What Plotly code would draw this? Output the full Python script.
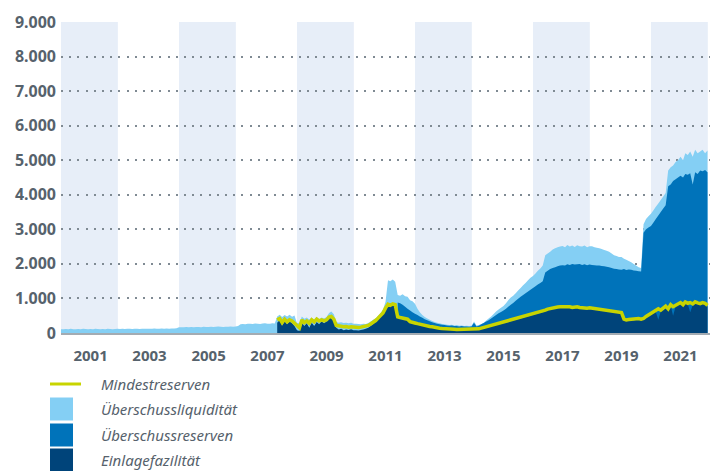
import pandas as pd
import plotly.graph_objects as go

months = pd.date_range("2000-01-01", periods=264, freq="MS")

ueberschussliquiditaet = [
    110, 105, 115, 110, 120, 105, 110, 115, 110, 120, 115, 110,  # 2000
    115, 110, 120, 115, 110, 118, 112, 120, 115, 110, 118, 120,  # 2001
    118, 122, 115, 120, 125, 118, 120, 122, 118, 125, 120, 122,  # 2002
    120, 125, 128, 122, 125, 130, 125, 128, 125, 130, 128, 135,  # 2003
    165, 170, 168, 172, 170, 175, 168, 172, 175, 170, 178, 172,  # 2004
    175, 180, 172, 178, 185, 180, 176, 182, 178, 185, 180, 188,  # 2005
    200, 250, 260, 255, 265, 270, 260, 275, 268, 262, 275, 280,  # 2006
    270, 265, 280, 275, 480, 530, 460, 520, 480, 530, 470, 510,  # 2007
    280, 300, 480, 410, 450, 390, 440, 370, 460, 400, 450, 420,  # 2008
    460, 580, 620, 540, 320, 300, 310, 290, 300, 280, 300, 270,  # 2009
    270, 260, 250, 270, 260, 290, 330, 380, 430, 500, 580, 680,  # 2010
    900, 1530, 1500, 1550, 1480, 1100, 1080, 1120, 1060, 1050, 950, 920,  # 2011
    850, 700, 600, 520, 460, 420, 380, 350, 320, 300, 280, 260,  # 2012
    250, 240, 230, 240, 220, 230, 210, 220, 200, 210, 200, 210,  # 2013
    330, 220, 230, 260, 300, 360, 420, 480, 550, 620, 680, 730,  # 2014
    780, 860, 950, 1030, 1080, 1150, 1230, 1300, 1380, 1450, 1530, 1600,  # 2015
    1650, 1720, 1800, 1870, 1950, 2250, 2300, 2350, 2420, 2450, 2480, 2500,  # 2016
    2520, 2480, 2550, 2500, 2530, 2490, 2540, 2510, 2500, 2530, 2480, 2510,  # 2017
    2510, 2480, 2470, 2450, 2430, 2400, 2380, 2350, 2300, 2250, 2230, 2200,  # 2018
    2200, 2150, 2120, 2080, 2050, 2000, 1950, 1900, 1880, 3150, 3300, 3380,  # 2019
    3450, 3550, 3650, 3750, 3850, 3950, 4050, 4700, 4800, 4850, 4950, 5000,  # 2020
    5100, 5000, 5200, 5150, 5250, 5100, 5300, 5200, 5250, 5300, 5200, 5280,  # 2021
]

ueberschussreserven = [None] * 137 + [
    880, 860, 820, 760, 700, 650, 600,  # 2011 (ab Juni)
    560, 520, 480, 440, 400, 370, 340, 310, 290, 270, 250, 240,  # 2012
    230, 220, 210, 215, 200, 205, 190, 200, 185, 190, 180, 190,  # 2013
    300, 190, 210, 250, 290, 330, 370, 420, 470, 520, 570, 610,  # 2014
    650, 700, 760, 820, 870, 930, 990, 1050, 1100, 1150, 1200, 1250,  # 2015
    1300, 1350, 1400, 1450, 1500, 1750, 1800, 1850, 1880, 1900, 1930, 1950,  # 2016
    1960, 1950, 1990, 1970, 2000, 1980, 1990, 2000, 1970, 1990, 1960, 1980,  # 2017
    1970, 1960, 1950, 1950, 1940, 1930, 1920, 1900, 1880, 1860, 1850, 1840,  # 2018
    1830, 1850, 1820, 1840, 1830, 1810, 1800, 1790, 1780, 2900, 3000, 3050,  # 2019
    3100, 3200, 3300, 3400, 3500, 3600, 3700, 4250, 4300, 4400, 4450, 4500,  # 2020
    4550, 4500, 4600, 4580, 4620, 4300, 4650, 4600, 4700, 4680, 4720, 4650,  # 2021
]

einlagefazilitaet = [None] * 88 + [
    300, 380, 220, 350, 250, 330, 280, 200,  # 2007 (ab Mai)
    80, 60, 300, 200, 280, 150, 300, 200, 320, 250, 340, 280,  # 2008
    330, 450, 420, 350, 150, 100, 120, 80, 100, 90, 110, 80,  # 2009
    80, 70, 90, 100, 120, 150, 200, 260, 330, 400, 480, 560,  # 2010
    700, 850, 820, 860, 830, 450, 430, 420, 400, 380, 300, 270,  # 2011
    250, 240, 230, 220, 200, 190, 180, 170, 160, 150, 140, 140,  # 2012
    130, 130, 120, 125, 120, 115, 110, 115, 110, 105, 110, 100,  # 2013
    90, 80, 100, 120, 140, 160, 180, 200, 220, 230, 240, 260,  # 2014
    280, 300, 320, 340, 360, 380, 400, 420, 440, 460, 480, 500,  # 2015
    520, 540, 560, 580, 600, 630, 660, 680, 700, 710, 720, 730,  # 2016
    730, 720, 740, 730, 710, 720, 730, 710, 700, 710, 690, 700,  # 2017
    690, 680, 670, 670, 660, 650, 640, 620, 610, 590, 580, 570,  # 2018
    560, 370, 350, 360, 370, 360, 380, 390, 370, 390, 450, 490,  # 2019
    530, 570, 610, 380, 630, 690, 750, 670, 790, 500, 770, 820,  # 2020
    850, 790, 870, 830, 600, 810, 870, 840, 820, 850, 830, 770,  # 2021
]

mindestreserven = [None] * 88 + [
    380, 420, 300, 400, 320, 380, 350, 280,  # 2007 (ab Mai)
    200, 150, 380, 300, 350, 280, 380, 320, 400, 350, 380, 350,  # 2008
    380, 460, 480, 400, 220, 200, 190, 180, 190, 170, 180, 170,  # 2009
    170, 160, 170, 180, 190, 220, 260, 300, 360, 430, 500, 580,  # 2010
    720, 830, 800, 840, 820, 470, 450, 430, 420, 400, 330, 300,  # 2011
    290, 270, 250, 230, 210, 200, 190, 180, 160, 150, 140, 130,  # 2012
    120, 115, 110, 115, 105, 100, 100, 105, 100, 95, 100, 100,  # 2013
    110, 100, 120, 140, 160, 180, 200, 220, 240, 250, 260, 280,  # 2014
    300, 320, 340, 360, 380, 400, 420, 440, 460, 480, 500, 520,  # 2015
    540, 560, 590, 610, 630, 660, 690, 710, 730, 740, 750, 760,  # 2016
    760, 750, 770, 760, 740, 750, 760, 740, 730, 740, 720, 730,  # 2017
    720, 710, 700, 700, 690, 680, 670, 650, 640, 620, 610, 600,  # 2018
    590, 400, 380, 390, 400, 390, 410, 420, 400, 420, 480, 520,  # 2019
    560, 600, 640, 700, 660, 720, 780, 700, 820, 760, 800, 850,  # 2020
    880, 820, 900, 860, 880, 840, 900, 870, 850, 880, 860, 800,  # 2021
]

shaded_years = [2000, 2004, 2008, 2012, 2016, 2020]
y_ticks = [0, 1000, 2000, 3000, 4000, 5000, 6000, 7000, 8000, 9000]

C_LIGHT = "#84cff4"
C_MID = "#0073ba"
C_DARK = "#00447a"
C_YELLOW = "#c8d400"
C_TEXT = "#56626c"
C_BAND = "#e7eef8"

# plot box in pixels (for the hand-made legend below the chart)
L, R, T, B = 61, 710, 22, 333


def xp(px):
    return (px - L) / (R - L)


def yp(py):
    return (B - py) / (B - T)


fig = go.Figure()
fig.add_trace(go.Scatter(x=months, y=ueberschussliquiditaet, name="Überschussliquidität",
                         mode="none", fill="tozeroy", fillcolor=C_LIGHT))
fig.add_trace(go.Scatter(x=months, y=ueberschussreserven, name="Überschussreserven",
                         mode="none", fill="tozeroy", fillcolor=C_MID))
fig.add_trace(go.Scatter(x=months, y=einlagefazilitaet, name="Einlagefazilität",
                         mode="none", fill="tozeroy", fillcolor=C_DARK))
fig.add_trace(go.Scatter(x=months, y=mindestreserven, name="Mindestreserven",
                         mode="lines", line=dict(color=C_YELLOW, width=3.5)))

shapes = []
for yr in shaded_years:
    shapes.append(dict(type="rect", xref="x", yref="paper", x0=f"{yr}-01-01", x1=f"{yr + 1}-12-05",
                       y0=0, y1=1, fillcolor=C_BAND, line_width=0, layer="below"))

# legend
legend_rows = [
    ("Mindestreserven", None, 384),
    ("Überschussliquidität", C_LIGHT, 409),
    ("Überschussreserven", C_MID, 435),
    ("Einlagefazilität", C_DARK, 460),
]
annotations = []
for label, color, cy in legend_rows:
    if color is None:
        shapes.append(dict(type="line", xref="paper", yref="paper", x0=xp(50), x1=xp(81),
                           y0=yp(cy), y1=yp(cy), line=dict(color=C_YELLOW, width=3)))
    else:
        shapes.append(dict(type="rect", xref="paper", yref="paper", x0=xp(50), x1=xp(73),
                           y0=yp(cy - 11.5), y1=yp(cy + 11.5), fillcolor=color, line_width=0))
    annotations.append(dict(text=label, xref="paper", yref="paper", x=xp(99), y=yp(cy),
                            xanchor="left", yanchor="middle", showarrow=False,
                            font=dict(family="Noto Sans", size=15, color=C_TEXT, style="italic")))

fig.update_layout(
    width=715, height=471,
    margin=dict(l=L, r=715 - R, t=T, b=471 - B),
    paper_bgcolor="white", plot_bgcolor="white",
    separators=",.",
    showlegend=False,
    shapes=shapes,
    annotations=annotations,
    font=dict(family="Noto Sans", color=C_TEXT),
)
fig.update_xaxes(
    type="date", range=["2000-01-01", "2022-01-01"],
    tickvals=[f"{y}-01-01" for y in range(2001, 2022, 2)],
    ticktext=[str(y) for y in range(2001, 2022, 2)],
    tickfont=dict(size=15, color=C_TEXT, weight="bold"),
    showgrid=False, showline=True, linecolor="#a3abb2", linewidth=2,
    ticks="", ticklabelstandoff=8,
)
fig.update_yaxes(
    range=[0, 9000], tickvals=y_ticks, tickformat=",d",
    tickfont=dict(size=16, color=C_TEXT, weight="bold"),
    showgrid=True, gridcolor="#7f8a93", gridwidth=1.6, griddash="2px,6.2px",
    zeroline=False, ticks="", ticklabelstandoff=4,
)

# the page's default body margin would push the fixed-size figure off the window
fig.write_html("out.html", config={"displayModeBar": False},
               post_script="document.body.style.margin='0';document.body.style.overflow='hidden';")
